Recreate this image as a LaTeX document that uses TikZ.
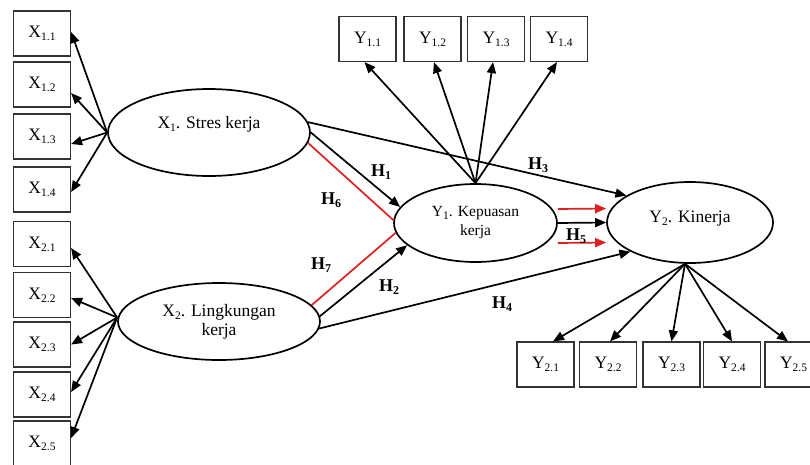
\documentclass[tikz,border=0pt]{standalone}
\usepackage{fontspec}
\setmainfont{Liberation Serif}
\usetikzlibrary{arrows.meta,shapes.geometric}
\definecolor{redc}{RGB}{222,32,32}
\newcommand{\sbs}[1]{{\fontsize{11.5}{11.5}\selectfont\raisebox{-3pt}{#1}}}
\newcommand{\hsb}[1]{{\fontsize{12}{12}\selectfont\raisebox{-3.5pt}{#1}}}
\begin{document}
\begin{tikzpicture}[x=1pt,y=-1pt,
  ind/.style={draw=black!80,line width=1.2pt,minimum width=57pt,minimum height=45pt,inner sep=0pt,font=\fontsize{17.5}{17.5}\selectfont,fill=white},
  lat/.style={draw,ellipse,line width=1.7pt,inner sep=0pt,align=center},
  arr/.style={line width=1.7pt,-{Triangle[length=11pt,width=9pt]}},
  redl/.style={line width=1.7pt,draw=redc},
  redarr/.style={line width=1.7pt,draw=redc,-{Triangle[length=11pt,width=9pt]}},
  hl/.style={font=\bfseries\fontsize{18}{18}\selectfont,inner sep=0pt}
]
\useasboundingbox (0,0) rectangle (810,464);
\clip (0,0) rectangle (810,464);
% indicator boxes
\node[ind] (x11) at (42,33.5) {X\sbs{1.1}};
\node[ind] (x12) at (42,84.5) {X\sbs{1.2}};
\node[ind] (x13) at (42,136.5) {X\sbs{1.3}};
\node[ind] (x14) at (42,189.5) {X\sbs{1.4}};
\node[ind] (x21) at (42,244) {X\sbs{2.1}};
\node[ind] (x22) at (42,295) {X\sbs{2.2}};
\node[ind] (x23) at (42,344.5) {X\sbs{2.3}};
\node[ind] (x24) at (42,394.5) {X\sbs{2.4}};
\node[ind] (x25) at (42,443.5) {X\sbs{2.5}};
\node[ind] (y11) at (367.5,39) {Y\sbs{1.1}};
\node[ind] (y12) at (432.5,39) {Y\sbs{1.2}};
\node[ind] (y13) at (496,39) {Y\sbs{1.3}};
\node[ind] (y14) at (559,39) {Y\sbs{1.4}};
\node[ind] (y21) at (545.5,364.5) {Y\sbs{2.1}};
\node[ind] (y22) at (608,364.5) {Y\sbs{2.2}};
\node[ind] (y23) at (671.5,364.5) {Y\sbs{2.3}};
\node[ind] (y24) at (732,364.5) {Y\sbs{2.4}};
\node[ind] (y25) at (793.5,364.5) {Y\sbs{2.5}};
% latent variables
\node[lat,minimum width=202pt,minimum height=87pt,font=\fontsize{17.5}{20}\selectfont] (x1) at (209,132.5) {X\sbs{1}. Stres kerja\\\mbox{}};
\node[lat,minimum width=202pt,minimum height=77pt,font=\fontsize{17.5}{19}\selectfont] (x2) at (219,321.5) {X\sbs{2}. Lingkungan\\kerja};
\node[lat,minimum width=163pt,minimum height=78pt,font=\fontsize{15.5}{19}\selectfont] (y1) at (475.5,223) {Y\sbs{1}. Kepuasan\\kerja};
\node[lat,minimum width=166pt,minimum height=81pt,font=\fontsize{17.5}{20}\selectfont,text depth=12pt] (y2) at (690,222.5) {Y\sbs{2}. Kinerja};
% indicator arrows
\draw[arr] (x1.west) -- ([yshift=1.5pt]x11.east);
\draw[arr] (x1.west) -- ([yshift=-8.5pt]x12.east);
\draw[arr] (x1.west) -- ([yshift=-7.5pt]x13.east);
\draw[arr] (x1.west) -- ([yshift=-2.5pt]x14.east);
\coordinate (x2o) at ([yshift=4pt]x2.west);
\draw[arr] (x2o) -- ([yshift=-4pt]x21.east);
\draw[arr] (x2o) -- ([yshift=-3pt]x22.east);
\draw[arr] (x2o) -- (x23.east);
\draw[arr] (x2o) -- ([yshift=2.5pt]x24.east);
\draw[arr] (x2o) -- ([yshift=5.5pt]x25.east);
\draw[arr] (y1.north) -- ([xshift=-3pt]y11.south);
\draw[arr] (y1.north) -- ([xshift=1.5pt]y12.south);
\draw[arr] (y1.north) -- ([xshift=-3pt]y13.south);
\draw[arr] (y1.north) -- ([xshift=-2pt]y14.south);
\coordinate (y2o) at ([xshift=-5pt]y2.south);
\draw[arr] (y2o) -- ([xshift=7.5pt]y21.north);
\draw[arr] (y2o) -- ([xshift=2pt]y22.north);
\draw[arr] (y2o) -- (y23.north);
\draw[arr] (y2o) -- (y24.north);
\draw[arr] (y2o) -- ([xshift=-5.5pt]y25.north);
% structural paths
\draw[arr] (x1.east) -- (y1.168);
\draw[arr] (x1.6) -- (y2.157);
\draw[redl] (x1.-6) -- (y1.178);
\draw[redl] (x2.10) -- (y1.187);
\draw[arr] (x2.3) -- (y1.198);
\draw[arr] (x2.-4) -- (y2.206);
\draw[redarr] ([yshift=14pt]y1.east) -- ([yshift=14pt]y2.west);
\draw[arr] (y1.east) -- (y2.west);
\draw[redarr] ([yshift=-20pt]y1.east) -- ([yshift=-20pt]y2.west);
% labels
\node[hl] (h1) at (381,172) {H\hsb{1}};
\node[hl] (h6) at (331,200) {H\hsb{6}};
\node[hl] (h7) at (321,265) {H\hsb{7}};
\node[hl] (h2) at (389,287) {H\hsb{2}};
\node[hl] (h3) at (538,165) {H\hsb{3}};
\node[hl] (h4) at (502,304) {H\hsb{4}};
\node[hl] (h5) at (576,236) {H\hsb{5}};
\end{tikzpicture}
\end{document}
